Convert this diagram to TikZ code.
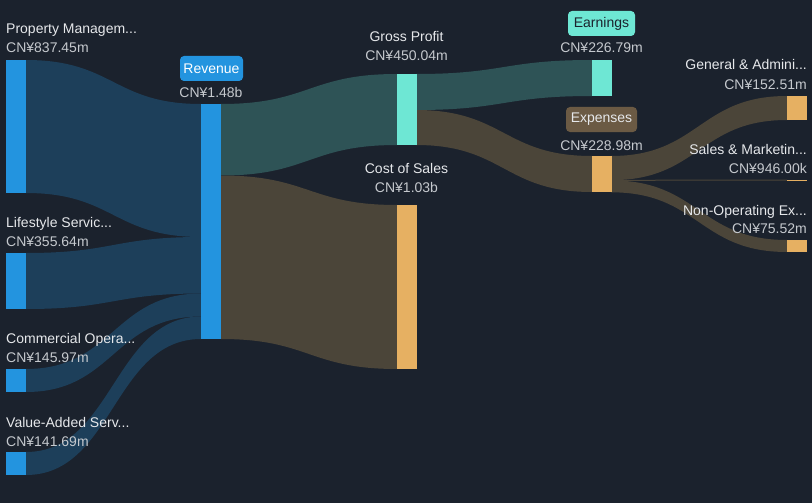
\documentclass[tikz,border=0pt]{standalone}
\usepackage{fontspec}
\setmainfont{Liberation Sans}
\definecolor{bgcol}{HTML}{1B222D}
\definecolor{flowblue}{HTML}{1D3F5A}
\definecolor{flowteal}{HTML}{2E5356}
\definecolor{flowbrown}{HTML}{4B4539}
\definecolor{barblue}{HTML}{2394DF}
\definecolor{barteal}{HTML}{6EE7D4}
\definecolor{barorange}{HTML}{E6B062}
\definecolor{expbox}{HTML}{6B5A44}
\definecolor{namecol}{HTML}{E6E8EB}
\definecolor{valcol}{HTML}{C5C9CE}
\newcommand\sankeyband[7]{%
  \fill[#7] (#1,#2) .. controls ({(#1+#4)/2},#2) and ({(#1+#4)/2},#5) .. (#4,#5)
    -- (#4,#6) .. controls ({(#1+#4)/2},#6) and ({(#1+#4)/2},#3) .. (#1,#3) -- cycle;}
\begin{document}
\begin{tikzpicture}[x=1pt,y=-1pt,
  bar/.style={rectangle,inner sep=0pt,outer sep=0pt,minimum width=20pt},
  nametext/.style={text=namecol,inner sep=0pt,font=\fontsize{14}{16}\selectfont},
  valtext/.style={text=valcol,inner sep=0pt,font=\fontsize{14}{16}\selectfont},
  tag/.style={rectangle,rounded corners=4pt,minimum height=25pt,inner sep=0pt,
    font=\fontsize{14}{16}\selectfont}]
\fill[bgcol] (0,0) rectangle (812,503);
\useasboundingbox (0,0) rectangle (812,503);
\sankeyband{26}{60}{193}{201}{104}{237}{flowblue}
\sankeyband{26}{253}{309}{201}{237}{293.5}{flowblue}
\sankeyband{26}{369}{392}{201}{293.5}{316.5}{flowblue}
\sankeyband{26}{452}{475}{201}{316.5}{339}{flowblue}
\sankeyband{221}{104}{175.5}{397}{74}{145}{flowteal}
\sankeyband{221}{175.5}{339}{397}{205}{369}{flowbrown}
\sankeyband{416}{74}{110}{592}{60}{96}{flowteal}
\sankeyband{416}{110}{145}{592}{156}{192}{flowbrown}
\sankeyband{611}{156}{180.2}{787}{96}{120}{flowbrown}
\sankeyband{611}{179.8}{180.8}{787}{179.6}{180.6}{flowbrown}
\sankeyband{611}{180.4}{192.3}{787}{240}{252}{flowbrown}
\node[bar,fill=barblue,minimum height=133pt] (prop) at (16,126.5) {};
\node[bar,fill=barblue,minimum height=56pt] (life) at (16,281) {};
\node[bar,fill=barblue,minimum height=23pt] (comm) at (16,380.5) {};
\node[bar,fill=barblue,minimum height=23pt] (vas) at (16,463.5) {};
\node[bar,fill=barblue,minimum height=235pt] (rev) at (211,221.5) {};
\node[bar,fill=barteal,minimum height=71pt] (gp) at (406.5,109.5) {};
\node[bar,fill=barorange,minimum height=164pt] (cos) at (406.5,287) {};
\node[bar,fill=barteal,minimum height=36pt] (earn) at (601.5,78) {};
\node[bar,fill=barorange,minimum height=36pt] (exp) at (601.5,174) {};
\node[bar,fill=barorange,minimum height=24pt] (ga) at (797,108) {};
\node[bar,fill=barorange,minimum height=1pt] (sm) at (797,180.1) {};
\node[bar,fill=barorange,minimum height=12pt] (nonop) at (797,246) {};
\node[nametext,anchor=base west] (propname) at (6,34) {Property Managem...};
\node[valtext,anchor=base west] (propval) at (6,53) {CN¥837.45m};
\node[nametext,anchor=base west] (lifename) at (6,227) {Lifestyle Servic...};
\node[valtext,anchor=base west] (lifeval) at (6,246) {CN¥355.64m};
\node[nametext,anchor=base west] (commname) at (6,343) {Commercial Opera...};
\node[valtext,anchor=base west] (commval) at (6,362) {CN¥145.97m};
\node[nametext,anchor=base west] (vasname) at (6,427) {Value-Added Serv...};
\node[valtext,anchor=base west] (vasval) at (6,446) {CN¥141.69m};
\node[tag,fill=barblue,text=white,minimum width=63pt] (revtag) at (211.5,68.5) {Revenue};
\node[valtext,anchor=base] (revval) at (211,98) {CN¥1.48b};
\node[nametext,anchor=base] (gpname) at (406.5,42) {Gross Profit};
\node[valtext,anchor=base] (gpval) at (406.5,61) {CN¥450.04m};
\node[nametext,anchor=base] (cosname) at (406.5,173) {Cost of Sales};
\node[valtext,anchor=base] (cosval) at (406.5,192) {CN¥1.03b};
\node[tag,fill=barteal,text=bgcol,minimum width=67pt] (earntag) at (601.5,23.5) {Earnings};
\node[valtext,anchor=base] (earnval) at (601.5,53) {CN¥226.79m};
\node[tag,fill=expbox,text=namecol,minimum width=71pt] (exptag) at (601.5,119.5) {Expenses};
\node[valtext,anchor=base] (expval) at (601.5,150) {CN¥228.98m};
\node[nametext,anchor=base east] (ganame) at (807,70) {General \& Admini...};
\node[valtext,anchor=base east] (gaval) at (807,89) {CN¥152.51m};
\node[nametext,anchor=base east] (smname) at (807,154) {Sales \& Marketin...};
\node[valtext,anchor=base east] (smval) at (807,173) {CN¥946.00k};
\node[nametext,anchor=base east] (nonopname) at (807,215) {Non-Operating Ex...};
\node[valtext,anchor=base east] (nonopval) at (807,233) {CN¥75.52m};
\end{tikzpicture}
\end{document}
